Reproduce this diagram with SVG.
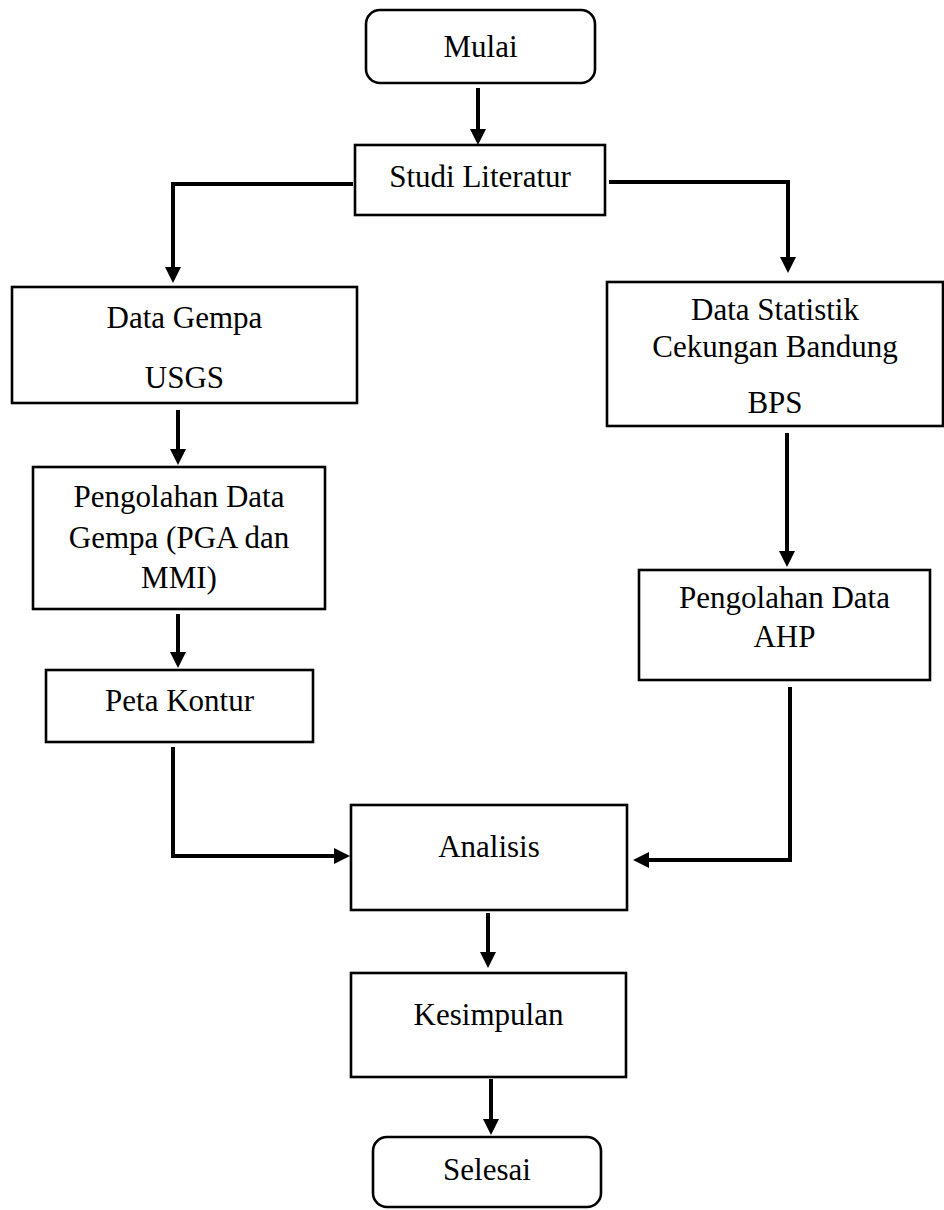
<svg xmlns="http://www.w3.org/2000/svg" width="944" height="1210" viewBox="0 0 944 1210">
<style>
.box{fill:#fff;stroke:#000;stroke-width:2.6}
.lbl{font-family:"Liberation Serif","Times New Roman",serif;font-size:31px;fill:#000;text-anchor:middle}
.con{fill:none;stroke:#000;stroke-width:4;stroke-linejoin:miter}
</style>
<defs>
<marker id="ah" viewBox="0 0 16 16" markerWidth="16" markerHeight="16" markerUnits="userSpaceOnUse" refX="4" refY="8" orient="auto">
<path d="M0,0 L16,8 L0,16 z" fill="#000"/>
</marker>
</defs>
<rect width="944" height="1210" fill="#fff"/>
<g id="connectors">
<path class="con" d="M478,88 V133" marker-end="url(#ah)"/>
<path class="con" d="M353,184 H173 V271" marker-end="url(#ah)"/>
<path class="con" d="M609,182 H788 V261" marker-end="url(#ah)"/>
<path class="con" d="M178,410 V453" marker-end="url(#ah)"/>
<path class="con" d="M178,614 V656" marker-end="url(#ah)"/>
<path class="con" d="M173,747 V856 H338" marker-end="url(#ah)"/>
<path class="con" d="M787,433 V555" marker-end="url(#ah)"/>
<path class="con" d="M790,687 V860 H645" marker-end="url(#ah)"/>
<path class="con" d="M488,913 V956" marker-end="url(#ah)"/>
<path class="con" d="M491,1079 V1123" marker-end="url(#ah)"/>
</g>
<g id="mulai">
<rect class="box" x="366" y="10" width="229" height="73" rx="14"/>
<text class="lbl" x="480.5" y="57">Mulai</text>
</g>
<g id="studi">
<rect class="box" x="355" y="145" width="250" height="70"/>
<text class="lbl" x="480" y="187">Studi Literatur</text>
</g>
<g id="datagempa">
<rect class="box" x="12" y="287" width="345" height="116"/>
<text class="lbl" x="184.5" y="328">Data Gempa</text>
<text class="lbl" x="184.5" y="388">USGS</text>
</g>
<g id="pengolahangempa">
<rect class="box" x="33" y="467" width="292" height="142"/>
<text class="lbl" x="179" y="507">Pengolahan Data</text>
<text class="lbl" x="179" y="548">Gempa (PGA dan</text>
<text class="lbl" x="179" y="588">MMI)</text>
</g>
<g id="peta">
<rect class="box" x="46" y="670" width="267" height="72"/>
<text class="lbl" x="179.5" y="711">Peta Kontur</text>
</g>
<g id="datastatistik">
<rect class="box" x="607" y="282" width="336" height="144"/>
<text class="lbl" x="775" y="320">Data Statistik</text>
<text class="lbl" x="775" y="357">Cekungan Bandung</text>
<text class="lbl" x="775" y="413">BPS</text>
</g>
<g id="pengolahanahp">
<rect class="box" x="639" y="570" width="291" height="110"/>
<text class="lbl" x="784.5" y="608">Pengolahan Data</text>
<text class="lbl" x="784.5" y="647">AHP</text>
</g>
<g id="analisis">
<rect class="box" x="351" y="805" width="276" height="105"/>
<text class="lbl" x="489" y="857">Analisis</text>
</g>
<g id="kesimpulan">
<rect class="box" x="351" y="973" width="275" height="104"/>
<text class="lbl" x="488.5" y="1025">Kesimpulan</text>
</g>
<g id="selesai">
<rect class="box" x="373" y="1137" width="228" height="70" rx="14"/>
<text class="lbl" x="487" y="1180">Selesai</text>
</g>
</svg>
